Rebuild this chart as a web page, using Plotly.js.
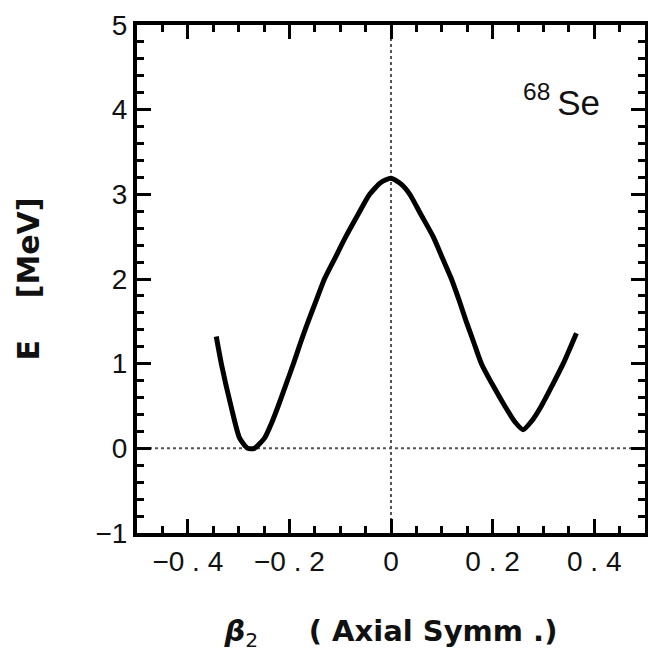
<!DOCTYPE html>
<html>
<head>
<meta charset="utf-8">
<script src="https://cdn.plot.ly/plotly-3.0.1.min.js"></script>
<style>html,body{margin:0;padding:0;background:#fff}#chart{width:648px;height:652px}</style>
</head>
<body>
<div id="chart"></div>
<script>
// beta_2 deformation values (x) and potential energy E in MeV (y)
const beta2 = [-0.344, -0.334, -0.315, -0.298, -0.282, -0.269, -0.249, -0.235, -0.222, -0.207, -0.192, -0.178, -0.163, -0.147, -0.131, -0.110, -0.089, -0.066, -0.042, -0.020, 0.000, 0.020, 0.037, 0.060, 0.083, 0.101, 0.119, 0.134, 0.148, 0.163, 0.178, 0.200, 0.224, 0.243, 0.260, 0.278, 0.296, 0.318, 0.339, 0.365];
const energy = [1.32, 1.00, 0.50, 0.12, 0.00, 0.00, 0.12, 0.30, 0.50, 0.75, 1.00, 1.25, 1.50, 1.75, 2.00, 2.25, 2.50, 2.75, 3.00, 3.14, 3.19, 3.12, 3.00, 2.75, 2.50, 2.25, 2.00, 1.75, 1.50, 1.25, 1.00, 0.75, 0.50, 0.32, 0.22, 0.33, 0.50, 0.75, 1.00, 1.36];

const xTickVals = [-0.4, -0.2, 0, 0.2, 0.4];
const xTickText = ['\u22120 . 4', '\u22120 . 2', '0', '0 . 2', '0 . 4'];
const yTickVals = [-1, 0, 1, 2, 3, 4, 5];
const yTickText = ['\u22121', '0', '1', '2', '3', '4', '5'];

const nucleus = '<sup>68</sup>\u2009Se';
const xTitle = '<i>\u03B2</i><span style="font-weight:normal"><sub>2</sub></span>\u00A0\u00A0\u00A0\u00A0\u00A0( Axial Symm .)';
const yTitle = 'E\u00A0\u00A0\u00A0\u00A0[MeV]';

const tickFont = {family: '"Liberation Sans Narrow", "Liberation Sans", Arial, sans-serif', size: 28, color: '#111'};

const trace = {
  x: beta2, y: energy, type: 'scatter', mode: 'lines',
  line: {color: '#000', width: 5, shape: 'spline', smoothing: 0.6},
  hoverinfo: 'skip', showlegend: false
};

const axisCommon = {
  showgrid: false, zeroline: false,
  showline: true, linecolor: '#000', linewidth: 4, mirror: 'ticks',
  ticks: 'inside', ticklen: 14, tickwidth: 3, tickcolor: '#000',
  tickfont: tickFont
};

const layout = {
  width: 648, height: 652,
  margin: {l: 137, r: 3, t: 25, b: 119},
  paper_bgcolor: '#fff', plot_bgcolor: '#fff',
  xaxis: Object.assign({}, axisCommon, {
    range: [-0.5, 0.5], tickmode: 'array', tickvals: xTickVals, ticktext: xTickText,
    minor: {tickmode: 'linear', tick0: 0, dtick: 0.05, ticks: 'inside', ticklen: 7, tickwidth: 3, tickcolor: '#000'},
    title: {text: xTitle, font: {family: '"DejaVu Sans", sans-serif', size: 29, color: '#111', weight: 'bold'}, standoff: 48}
  }),
  yaxis: Object.assign({}, axisCommon, {
    range: [-1, 5], tickmode: 'array', tickvals: yTickVals, ticktext: yTickText,
    minor: {tickmode: 'linear', tick0: 0, dtick: 0.2, ticks: 'inside', ticklen: 7, tickwidth: 3, tickcolor: '#000'},
    title: {text: yTitle, font: {family: '"DejaVu Sans", sans-serif', size: 30, color: '#111', weight: 'bold'}, standoff: 48}
  }),
  shapes: [
    {type: 'line', xref: 'x', yref: 'paper', x0: 0, x1: 0, y0: 0, y1: 1, layer: 'below', line: {color: '#555', width: 2, dash: 'dot'}},
    {type: 'line', xref: 'paper', yref: 'y', x0: 0, x1: 1, y0: 0, y1: 0, layer: 'below', line: {color: '#555', width: 2, dash: 'dot'}}
  ],
  annotations: [
    {text: nucleus, xref: 'paper', yref: 'paper', x: 0.915, y: 0.852, xanchor: 'right', yanchor: 'middle', showarrow: false,
     font: {family: '"Liberation Sans", Arial, sans-serif', size: 35, color: '#111'}}
  ]
};

Plotly.newPlot('chart', [trace], layout, {staticPlot: true, displayModeBar: false});
</script>
</body>
</html>
